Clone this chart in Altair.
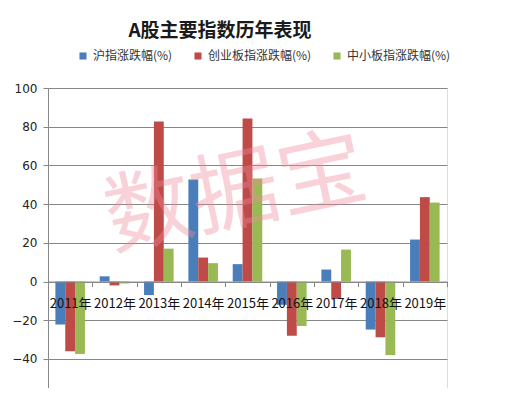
import altair as alt
import pandas as pd

years = ["2011年", "2012年", "2013年", "2014年", "2015年", "2016年", "2017年", "2018年", "2019年"]
series = ["沪指涨跌幅(%)", "创业板指涨跌幅(%)", "中小板指涨跌幅(%)"]
sh = [-22.2, 2.7, -7.0, 52.7, 9.0, -12.0, 6.2, -24.8, 21.7]
cy = [-36.0, -2.0, 82.7, 12.4, 84.2, -28.0, -9.0, -28.8, 43.6]
zx = [-37.4, -1.0, 17.0, 9.5, 53.2, -23.0, 16.5, -38.0, 40.8]
colors = ["#4a7ebb", "#be4b48", "#98b954"]
y_ticks = [-40, -20, 0, 20, 40, 60, 80, 100]

rows = []
for s, vals in zip(series, [sh, cy, zx]):
    for yr, v in zip(years, vals):
        rows.append({"year": yr, "series": s, "value": v})
df = pd.DataFrame(rows)

FONT = "Noto Sans CJK SC"
W, H = 399, 300
ymin, ymax = -55, 100
zero_from_bottom = H * (0 - ymin) / (ymax - ymin)

bars = alt.Chart(df).mark_bar().encode(
    x=alt.X("year:N", sort=years, title=None,
            scale=alt.Scale(paddingInner=0, paddingOuter=0),
            axis=alt.Axis(offset=-zero_from_bottom, tickBand="extent", tickSize=5,
                          tickColor="#878787", domainColor="#878787", labelAngle=0,
                          labelFont=FONT, labelFontSize=13, labelColor="#111111",
                          labelPadding=11, zindex=1, grid=False)),
    xOffset=alt.XOffset("series:N", sort=series,
                        scale=alt.Scale(paddingInner=0, paddingOuter=0.75)),
    y=alt.Y("value:Q", title=None,
            scale=alt.Scale(domain=[ymin, ymax], nice=False, zero=False),
            axis=alt.Axis(values=y_ticks, grid=True, gridColor="#878787", gridOpacity=1,
                          domainColor="#878787", tickColor="#878787", tickSize=5,
                          labelFont="DejaVu Sans", labelFontSize=12, labelColor="#222222",
                          labelPadding=6)),
    color=alt.Color("series:N", sort=series,
                    scale=alt.Scale(domain=series, range=colors),
                    legend=alt.Legend(title=None, orient="none", legendX=29, legendY=-38,
                                      direction="horizontal", columnPadding=19,
                                      symbolType="square", symbolSize=50,
                                      symbolStrokeWidth=0,
                                      labelFont=FONT, labelFontSize=12,
                                      labelColor="#333333")),
)

wm = alt.Chart(pd.DataFrame({"t": ["数据宝"]})).mark_text(
    font=FONT, fontSize=88, color="#f08a9c", opacity=0.38, angle=348,
    align="center", baseline="middle"
).encode(x=alt.value(188), y=alt.value(108), text="t:N")

title = alt.Chart(pd.DataFrame({"t": ["A股主要指数历年表现"]})).mark_text(
    font=FONT, fontSize=19, fontWeight="bold", color="#1a1a1a",
    align="center", baseline="middle"
).encode(x=alt.value(172), y=alt.value(-57), text="t:N")

chart = alt.layer(bars, wm, title).properties(
    width=W, height=H,
    autosize=alt.AutoSizeParams(type="none"),
    padding={"left": 40, "top": 80, "right": 53, "bottom": 0},
).configure_view(stroke=None).configure(background="white")

chart.save("out.html", embed_options={"renderer": "svg", "actions": False})
